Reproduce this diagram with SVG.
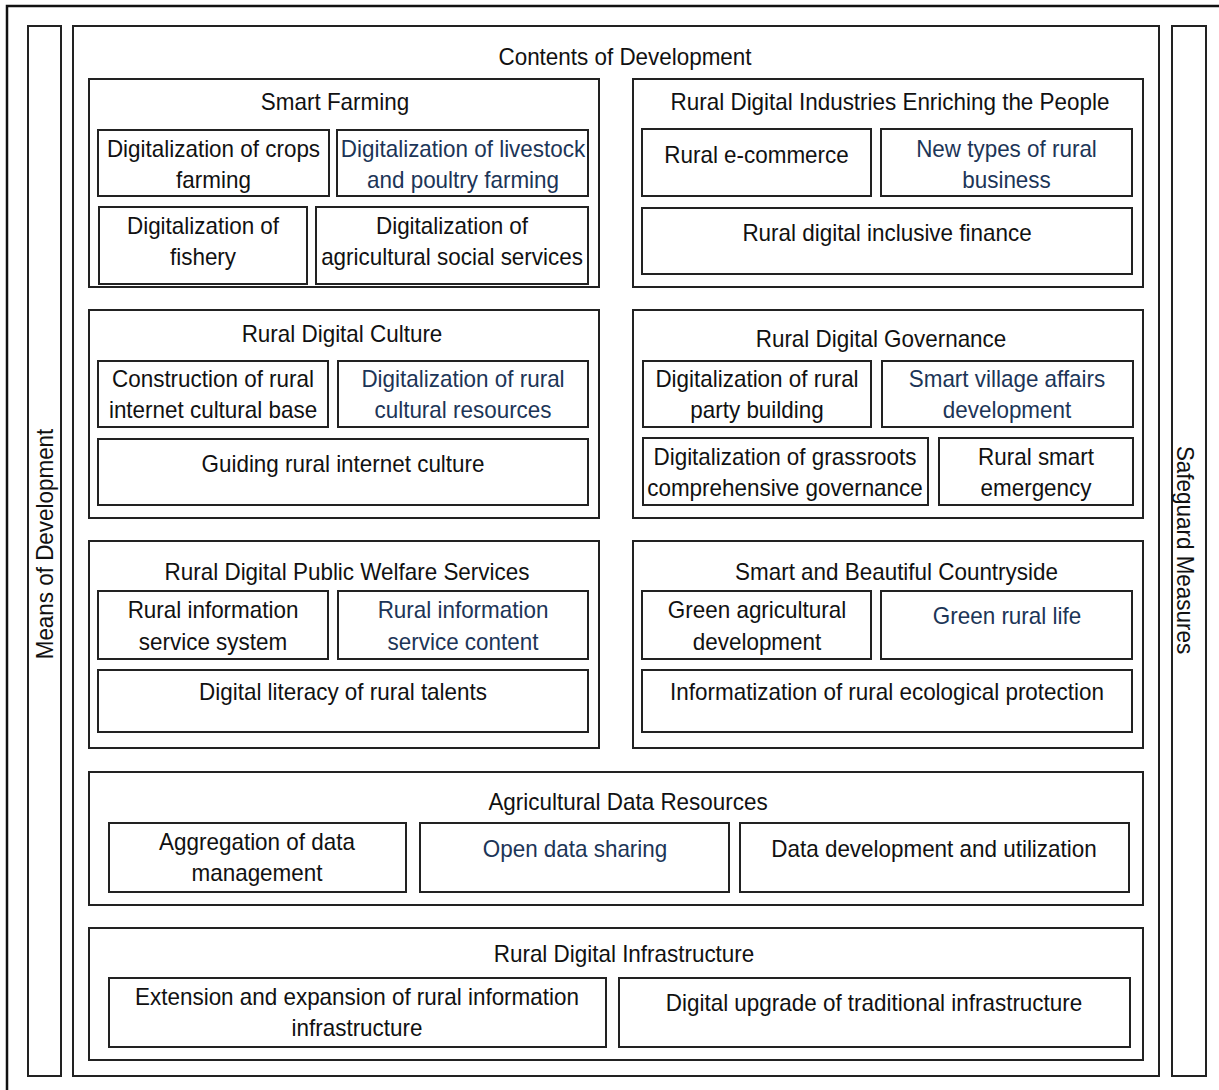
<svg xmlns="http://www.w3.org/2000/svg" width="1219" height="1090" viewBox="0 0 1219 1090">
<style>
.frame{fill:none;stroke:#111;stroke-width:2.5}
.col{fill:#fff;stroke:#222;stroke-width:2}
.sec{fill:#fff;stroke:#222;stroke-width:2}
.box{fill:#fff;stroke:#222;stroke-width:2}
.t{font-family:"Liberation Sans",Arial,sans-serif;font-size:24px;fill:#111;text-anchor:middle}
.b{fill:#1c3557}
</style>
<rect width="1219" height="1090" fill="#fff"/>
<path class="frame" d="M7 1092 V6 H1222"/>
<g id="means">
<rect class="col" x="28" y="26" width="33" height="1050"/>
<text class="t" transform="translate(53 544) rotate(-90) scale(0.935 1)">Means of Development</text>
</g>
<g id="safeguard">
<rect class="col" x="1172" y="26" width="34" height="1050"/>
<text class="t" transform="translate(1177 550) rotate(90) scale(0.935 1)">Safeguard Measures</text>
</g>
<g id="contents">
<rect class="sec" x="73" y="26" width="1086" height="1050"/>
<text class="t" transform="matrix(0.935 0 0 1 625 65)">Contents of Development</text>
</g>
<g id="smart-farming">
<rect class="sec" x="89" y="79" width="510" height="208"/>
<text class="t" transform="matrix(0.935 0 0 1 335 110)">Smart Farming</text>
<g id="sf-crops"><rect class="box" x="98" y="130" width="231" height="66"/>
<text class="t" transform="matrix(0.935 0 0 1 213.5 157)">Digitalization of crops</text>
<text class="t" transform="matrix(0.935 0 0 1 213.5 188)">farming</text></g>
<g id="sf-livestock"><rect class="box" x="337" y="130" width="251" height="66"/>
<text class="t b" transform="matrix(0.935 0 0 1 463 157)">Digitalization of livestock</text>
<text class="t b" transform="matrix(0.935 0 0 1 463 188)">and poultry farming</text></g>
<g id="sf-fishery"><rect class="box" x="99" y="207" width="208" height="77"/>
<text class="t" transform="matrix(0.935 0 0 1 203 234)">Digitalization of</text>
<text class="t" transform="matrix(0.935 0 0 1 203 265)">fishery</text></g>
<g id="sf-social"><rect class="box" x="316" y="207" width="272" height="77"/>
<text class="t" transform="matrix(0.935 0 0 1 452 234)">Digitalization of</text>
<text class="t" transform="matrix(0.935 0 0 1 452 265)">agricultural social services</text></g>
</g>
<g id="industries">
<rect class="sec" x="633" y="79" width="510" height="208"/>
<text class="t" transform="matrix(0.935 0 0 1 890 110)">Rural Digital Industries Enriching the People</text>
<g id="ind-ecommerce"><rect class="box" x="642" y="129" width="229" height="67"/>
<text class="t" transform="matrix(0.935 0 0 1 756.5 163)">Rural e-commerce</text></g>
<g id="ind-business"><rect class="box" x="881" y="129" width="251" height="67"/>
<text class="t b" transform="matrix(0.935 0 0 1 1006.5 157)">New types of rural</text>
<text class="t b" transform="matrix(0.935 0 0 1 1006.5 188)">business</text></g>
<g id="ind-finance"><rect class="box" x="642" y="208" width="490" height="66"/>
<text class="t" transform="matrix(0.935 0 0 1 887 241)">Rural digital inclusive finance</text></g>
</g>
<g id="culture">
<rect class="sec" x="89" y="310" width="510" height="208"/>
<text class="t" transform="matrix(0.935 0 0 1 342 342)">Rural Digital Culture</text>
<g id="cul-base"><rect class="box" x="98" y="361" width="230" height="66"/>
<text class="t" transform="matrix(0.935 0 0 1 213 387)">Construction of rural</text>
<text class="t" transform="matrix(0.935 0 0 1 213 418)">internet cultural base</text></g>
<g id="cul-resources"><rect class="box" x="338" y="361" width="250" height="66"/>
<text class="t b" transform="matrix(0.935 0 0 1 463 387)">Digitalization of rural</text>
<text class="t b" transform="matrix(0.935 0 0 1 463 418)">cultural resources</text></g>
<g id="cul-guiding"><rect class="box" x="98" y="439" width="490" height="66"/>
<text class="t" transform="matrix(0.935 0 0 1 343 472)">Guiding rural internet culture</text></g>
</g>
<g id="governance">
<rect class="sec" x="633" y="310" width="510" height="208"/>
<text class="t" transform="matrix(0.935 0 0 1 881 347)">Rural Digital Governance</text>
<g id="gov-party"><rect class="box" x="643" y="361" width="228" height="66"/>
<text class="t" transform="matrix(0.935 0 0 1 757 387)">Digitalization of rural</text>
<text class="t" transform="matrix(0.935 0 0 1 757 418)">party building</text></g>
<g id="gov-village"><rect class="box" x="882" y="361" width="251" height="66"/>
<text class="t b" transform="matrix(0.935 0 0 1 1007 387)">Smart village affairs</text>
<text class="t b" transform="matrix(0.935 0 0 1 1007 418)">development</text></g>
<g id="gov-grassroots"><rect class="box" x="643" y="438" width="285" height="67"/>
<text class="t" transform="matrix(0.935 0 0 1 785 465)">Digitalization of grassroots</text>
<text class="t" transform="matrix(0.935 0 0 1 785 496)">comprehensive governance</text></g>
<g id="gov-emergency"><rect class="box" x="939" y="438" width="194" height="67"/>
<text class="t" transform="matrix(0.935 0 0 1 1036 465)">Rural smart</text>
<text class="t" transform="matrix(0.935 0 0 1 1036 496)">emergency</text></g>
</g>
<g id="welfare">
<rect class="sec" x="89" y="541" width="510" height="207"/>
<text class="t" transform="matrix(0.935 0 0 1 347 580)">Rural Digital Public Welfare Services</text>
<g id="wel-system"><rect class="box" x="98" y="591" width="230" height="68"/>
<text class="t" transform="matrix(0.935 0 0 1 213 618)">Rural information</text>
<text class="t" transform="matrix(0.935 0 0 1 213 650)">service system</text></g>
<g id="wel-content"><rect class="box" x="338" y="591" width="250" height="68"/>
<text class="t b" transform="matrix(0.935 0 0 1 463 618)">Rural information</text>
<text class="t b" transform="matrix(0.935 0 0 1 463 650)">service content</text></g>
<g id="wel-literacy"><rect class="box" x="98" y="670" width="490" height="62"/>
<text class="t" transform="matrix(0.935 0 0 1 343 700)">Digital literacy of rural talents</text></g>
</g>
<g id="countryside">
<rect class="sec" x="633" y="541" width="510" height="207"/>
<text class="t" transform="matrix(0.935 0 0 1 896.5 580)">Smart and Beautiful Countryside</text>
<g id="cs-green-agri"><rect class="box" x="642" y="591" width="229" height="68"/>
<text class="t" transform="matrix(0.935 0 0 1 757 618)">Green agricultural</text>
<text class="t" transform="matrix(0.935 0 0 1 757 650)">development</text></g>
<g id="cs-green-life"><rect class="box" x="881" y="591" width="251" height="68"/>
<text class="t b" transform="matrix(0.935 0 0 1 1007 624)">Green rural life</text></g>
<g id="cs-eco"><rect class="box" x="642" y="670" width="490" height="62"/>
<text class="t" transform="matrix(0.935 0 0 1 887 700)">Informatization of rural ecological protection</text></g>
</g>
<g id="data-resources">
<rect class="sec" x="89" y="772" width="1054" height="133"/>
<text class="t" transform="matrix(0.935 0 0 1 628 810)">Agricultural Data Resources</text>
<g id="dr-aggregation"><rect class="box" x="109" y="823" width="297" height="69"/>
<text class="t" transform="matrix(0.935 0 0 1 257 850)">Aggregation of data</text>
<text class="t" transform="matrix(0.935 0 0 1 257 881)">management</text></g>
<g id="dr-sharing"><rect class="box" x="420" y="823" width="309" height="69"/>
<text class="t b" transform="matrix(0.935 0 0 1 575 857)">Open data sharing</text></g>
<g id="dr-utilization"><rect class="box" x="740" y="823" width="389" height="69"/>
<text class="t" transform="matrix(0.935 0 0 1 934 857)">Data development and utilization</text></g>
</g>
<g id="infrastructure">
<rect class="sec" x="89" y="928" width="1054" height="132"/>
<text class="t" transform="matrix(0.935 0 0 1 624 962)">Rural Digital Infrastructure</text>
<g id="inf-extension"><rect class="box" x="109" y="978" width="497" height="69"/>
<text class="t" transform="matrix(0.935 0 0 1 357 1005)">Extension and expansion of rural information</text>
<text class="t" transform="matrix(0.935 0 0 1 357 1036)">infrastructure</text></g>
<g id="inf-upgrade"><rect class="box" x="619" y="978" width="511" height="69"/>
<text class="t" transform="matrix(0.935 0 0 1 874 1011)">Digital upgrade of traditional infrastructure</text></g>
</g>
<g id="connectors"/>
</svg>
